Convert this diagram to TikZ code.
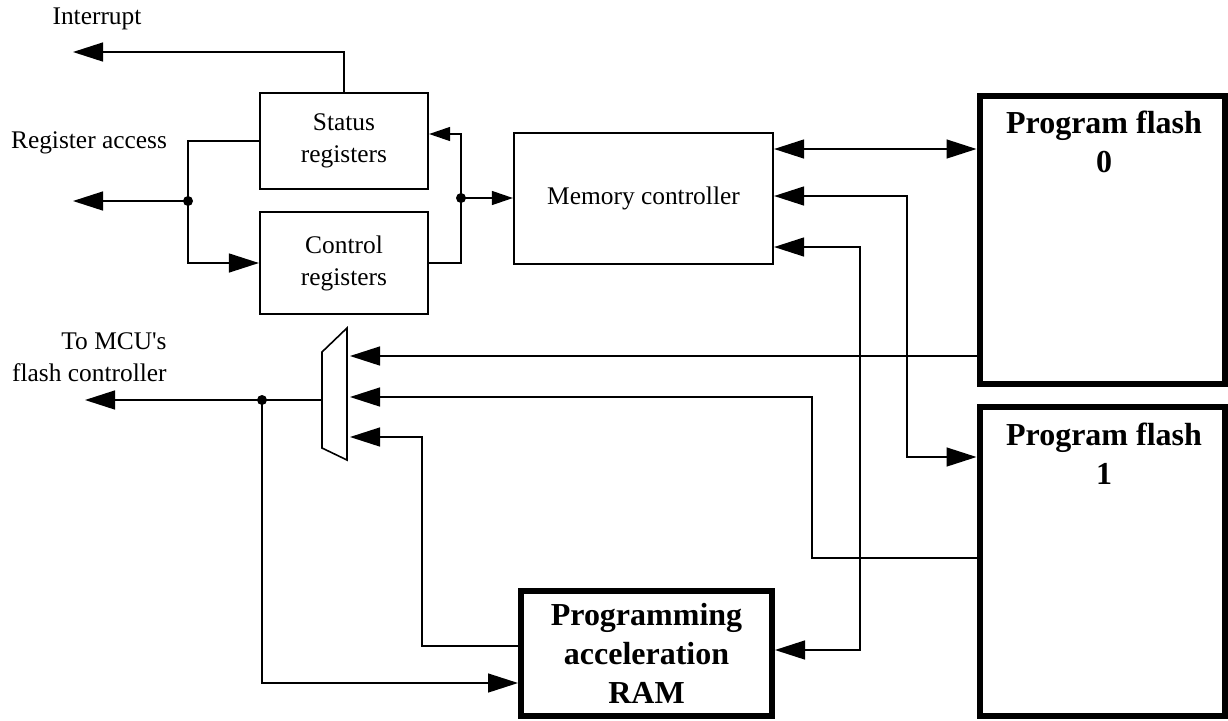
\documentclass[tikz,border=0pt]{standalone}
\usepackage{fontspec}
\setmainfont{Liberation Serif}
\usetikzlibrary{arrows.meta}
\begin{document}
\begin{tikzpicture}[x=0.5pt,y=-0.5pt,
 lbl/.style={font=\fontsize{12.7}{16}\selectfont, align=center, inner sep=0},
 blbl/.style={font=\fontsize{16}{19.5}\selectfont\bfseries, align=center, inner sep=0},
 box/.style={draw, line width=1.1pt, rectangle, inner sep=0},
 tbox/.style={draw, line width=3pt, rectangle, inner sep=0},
 wire/.style={line width=0.7pt},
 arr/.style={wire, -{Triangle[length=15pt,width=9.5pt]}},
 sarr/.style={wire, -{Triangle[length=10.5pt,width=7pt]}},
 darr/.style={wire, {Triangle[length=15pt,width=9.5pt]}-{Triangle[length=15pt,width=9.5pt]}},
 dot/.style={circle, fill, inner sep=0, minimum size=5pt}]
\useasboundingbox (0,0) rectangle (1228,720);

% boxes
\node[box, lbl, minimum width=84pt, minimum height=48pt] (status) at (344,141) {Status\\registers};
\node[box, lbl, minimum width=84pt, minimum height=51pt] (control) at (344,263) {Control\\registers};
\node[box, lbl, minimum width=129.5pt, minimum height=65.5pt] (memory) at (643.5,198.5) {Memory controller};
\node[tbox, minimum width=122.75pt, minimum height=144.25pt] (flash0) at (1102.25,240) {};
\node[tbox, minimum width=122.75pt, minimum height=154.5pt] (flash1) at (1102.25,561.5) {};
\node[tbox, blbl, minimum width=125.5pt, minimum height=62.5pt] (ram) at (646.5,653.5) {Programming\\acceleration\\RAM};
\node[blbl] (f0t) at (1104,142) {Program flash\\0};
\node[blbl] (f1t) at (1104,454) {Program flash\\1};

% labels
\node[lbl] (lint) at (97,19) {Interrupt};
\node[lbl] (lreg) at (89,143) {Register access};
\node[lbl, align=right, anchor=east] (lmcu) at (167,357) {To MCU\textquotesingle s\\flash controller};

% multiplexer
\coordinate (mA) at (322,352);
\coordinate (mB) at (347,328);
\coordinate (mC) at (347,460);
\coordinate (mD) at (322,448);
\draw[line width=0.8pt] (mA) -- (mB) -- (mC) -- (mD) -- cycle;
\coordinate (in1) at (350,356);
\coordinate (in2) at (350,397);
\coordinate (in3) at (350,437);
\coordinate (mout) at (322,400);

% free ends and bends
\coordinate (intr) at (73,52);
\coordinate (ra) at (73,201);
\coordinate (j1) at (188,201);
\coordinate (j2) at (461,198);
\coordinate (j2t) at (461,134);
\coordinate (mcu) at (85,400);
\coordinate (j3) at (262,400);
\coordinate (y149) at (0,149);
\coordinate (v1) at (907,196);
\coordinate (v1b) at (907,457);
\coordinate (v2) at (860,247);
\coordinate (v2b) at (860,650);
\coordinate (h1) at (0,356);
\coordinate (v3) at (812,397);
\coordinate (v3b) at (812,558);
\coordinate (v4) at (422,437);
\coordinate (v4b) at (422,646);
\coordinate (v5b) at (262,683);

% connectors
\draw[arr] (status.north) |- (intr);
\draw[wire] (status.west) -| (j1);
\draw[arr] (j1) |- (control.west);
\draw[arr] (j1) -- (ra);
\draw[sarr] (control.east) -| (j2t) -- (j2t -| status.east);
\draw[sarr] (j2) -- (j2 -| memory.west);
\draw[darr] (memory.east |- y149) -- (flash0.west |- y149);
\draw[darr] (memory.east |- v1) -- (v1) -- (v1b) -- (v1b -| flash1.west);
\draw[darr] (memory.east |- v2) -- (v2) -- (v2b) -- (v2b -| ram.east);
\draw[arr] (flash0.west |- h1) -- (in1);
\draw[arr] (v3b -| flash1.west) -- (v3b) -- (v3) -- (in2);
\draw[arr] (v4b -| ram.west) -- (v4b) -- (v4) -- (in3);
\draw[arr] (mout) -- (mcu);
\draw[arr] (j3) -- (v5b) -- (v5b -| ram.west);

% junction dots
\node[dot] (d1) at (j1) {};
\node[dot] (d2) at (j2) {};
\node[dot] (d3) at (j3) {};
\end{tikzpicture}
\end{document}
